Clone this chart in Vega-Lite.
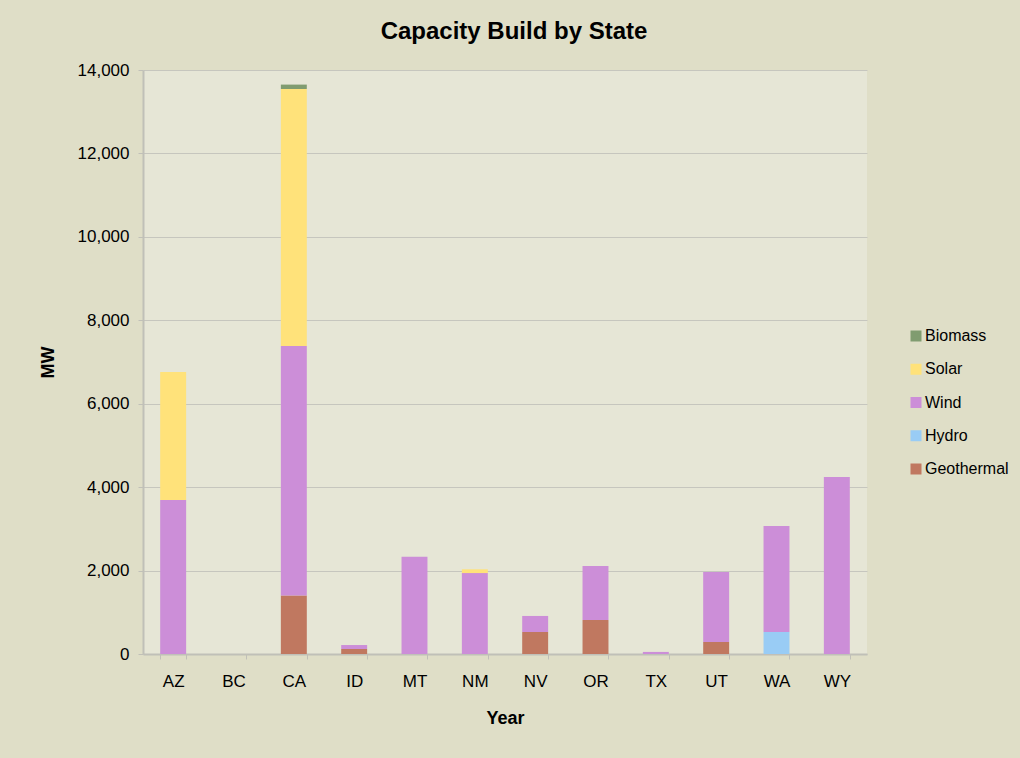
{
  "$schema": "https://vega.github.io/schema/vega-lite/v6.json",
  "autosize": {"type": "none"},
  "width": 724,
  "height": 584,
  "padding": {"left": 143, "top": 70, "right": 153, "bottom": 104},
  "background": "#dfdec7",
  "title": {
    "text": "Capacity Build by State",
    "font": "Liberation Sans",
    "fontSize": 24,
    "fontWeight": "bold",
    "color": "#000000",
    "anchor": "middle",
    "offset": 17,
    "dx": 9
  },
  "config": {
    "view": {"fill": "#e6e6d6", "stroke": null},
    "font": "Liberation Sans"
  },
  "data": {
    "values": [
      {"state": "AZ", "type": "Wind", "mw": 3690},
      {"state": "AZ", "type": "Solar", "mw": 3070},
      {"state": "CA", "type": "Geothermal", "mw": 1400},
      {"state": "CA", "type": "Wind", "mw": 5985},
      {"state": "CA", "type": "Solar", "mw": 6160},
      {"state": "CA", "type": "Biomass", "mw": 105},
      {"state": "ID", "type": "Geothermal", "mw": 120},
      {"state": "ID", "type": "Wind", "mw": 95},
      {"state": "MT", "type": "Wind", "mw": 2330},
      {"state": "NM", "type": "Wind", "mw": 1940},
      {"state": "NM", "type": "Solar", "mw": 90},
      {"state": "NV", "type": "Geothermal", "mw": 527},
      {"state": "NV", "type": "Wind", "mw": 385},
      {"state": "OR", "type": "Geothermal", "mw": 815},
      {"state": "OR", "type": "Wind", "mw": 1295},
      {"state": "TX", "type": "Wind", "mw": 50},
      {"state": "UT", "type": "Geothermal", "mw": 288},
      {"state": "UT", "type": "Wind", "mw": 1680},
      {"state": "WA", "type": "Hydro", "mw": 527},
      {"state": "WA", "type": "Wind", "mw": 2540},
      {"state": "WY", "type": "Wind", "mw": 4245},
      {"state": "BC", "type": "Wind", "mw": 0}
    ]
  },
  "transform": [
    {"calculate": "indexof(['Geothermal','Hydro','Wind','Solar','Biomass'], datum.type)", "as": "ord"}
  ],
  "mark": {"type": "bar"},
  "encoding": {
    "x": {
      "field": "state",
      "type": "nominal",
      "sort": ["AZ","BC","CA","ID","MT","NM","NV","OR","TX","UT","WA","WY"],
      "scale": {"paddingInner": 0.57, "paddingOuter": 0.285},
      "axis": {
        "title": "Year",
        "titleFont": "Liberation Sans",
        "titleFontSize": 18,
        "titleFontWeight": "bold",
        "titleColor": "#000000",
        "titlePadding": 20,
        "labelFont": "Liberation Sans",
        "labelFontSize": 17,
        "labelColor": "#000000",
        "labelAngle": 0,
        "labelPadding": 14,
        "tickBand": "extent",
        "tickColor": "#c0c0b8",
        "tickSize": 5,
        "domainColor": "#c0c0b8",
        "domainWidth": 2,
        "grid": false
      }
    },
    "y": {
      "field": "mw",
      "type": "quantitative",
      "aggregate": "sum",
      "stack": "zero",
      "scale": {"domain": [0, 14000], "nice": false},
      "axis": {
        "title": "MW",
        "titleFont": "Liberation Sans",
        "titleFontSize": 18,
        "titleFontWeight": "bold",
        "titleColor": "#000000",
        "titlePadding": 20,
        "labelFont": "Liberation Sans",
        "labelFontSize": 17,
        "labelColor": "#000000",
        "labelPadding": 9,
        "values": [0, 2000, 4000, 6000, 8000, 10000, 12000, 14000],
        "format": ",d",
        "tickColor": "#c0c0b8",
        "tickSize": 5,
        "domainColor": "#c0c0b8",
        "domainWidth": 2,
        "grid": true,
        "gridColor": "#c6c6be",
        "gridWidth": 1
      }
    },
    "color": {
      "field": "type",
      "type": "nominal",
      "scale": {
        "domain": ["Biomass", "Solar", "Wind", "Hydro", "Geothermal"],
        "range": ["#809c70", "#ffe27a", "#cc8ed8", "#99ccf5", "#c07860"]
      },
      "legend": {
        "title": null,
        "orient": "none",
        "legendX": 765,
        "legendY": 258,
        "symbolType": "square",
        "symbolSize": 121,
        "symbolStrokeWidth": 0,
        "labelFont": "Liberation Sans",
        "labelFontSize": 16,
        "labelColor": "#000000",
        "labelOffset": 1,
        "rowPadding": 17.25
      }
    },
    "order": {"field": "ord", "type": "quantitative", "aggregate": "min"}
  }
}
